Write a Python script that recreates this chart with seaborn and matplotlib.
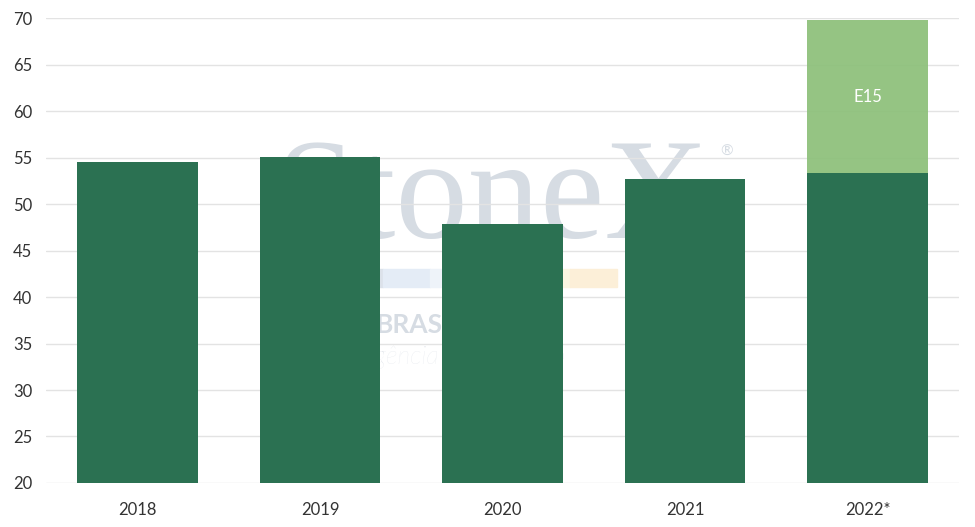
import matplotlib
matplotlib.use("Agg")
import matplotlib.pyplot as plt
import seaborn as sns
import pandas as pd
from matplotlib.patches import Rectangle

years = ["2018", "2019", "2020", "2021", "2022*"]
base_values = [54.5, 55.05, 47.85, 52.7, 53.3]
e15_values = [0, 0, 0, 0, 16.5]
e15_label = "E15"

totals = [b + e for b, e in zip(base_values, e15_values)]
df = pd.DataFrame({"year": years, "base": base_values, "total": totals})

sns.set_theme(style="white")
plt.rcParams["font.family"] = ["Lato", "DejaVu Sans"]

fig = plt.figure(figsize=(9.75, 5.27), dpi=100)
ax = fig.add_axes([0.0474, 0.0835, 0.9359, 0.8823])
ax.set_zorder(2)
ax.patch.set_alpha(0)

# watermark (behind everything)
wm = "#D6DCE3"
fig.text(0.505, 0.548, "StoneX", ha="center", va="baseline", fontsize=104,
         family="Liberation Serif", color=wm, zorder=0)
fig.text(0.745, 0.712, "®", ha="center", va="center", fontsize=11, color=wm, zorder=0)
strip_cols = ["#DCE2EA", "#E4ECF6", "#EEF3F9", "#F5F6F0", "#FBF6E2", "#FCEFD8"]
for i, c in enumerate(strip_cols):
    fig.patches.append(Rectangle((0.345 + i * 0.048, 0.455), 0.048, 0.034,
                                 transform=fig.transFigure, color=c, zorder=0))
fig.text(0.385, 0.368, "BRASIL", fontsize=19, fontweight="bold", color=wm, zorder=0)
fig.text(0.335, 0.31, "Inteligência de Mercado", fontsize=18, style="italic",
         fontweight="light", color="#E0E4EA", zorder=0)

ax.set_axisbelow(True)
ax.yaxis.grid(True, color="#E3E3E3", linewidth=1)

sns.barplot(data=df, x="year", y="total", color="#8DC07A", width=0.66,
            saturation=1, ax=ax, zorder=3, alpha=0.93, linewidth=0)
sns.barplot(data=df, x="year", y="base", color="#2B7152", width=0.66,
            saturation=1, ax=ax, zorder=4, linewidth=0)

for i, (b, e) in enumerate(zip(base_values, e15_values)):
    if e > 0:
        ax.text(i, b + e / 2, e15_label, ha="center", va="center",
                color="white", fontsize=12, zorder=5)

ax.set_ylim(20, 70)
ax.set_yticks(range(20, 71, 5))
ax.set_xlim(-0.5, 4.5)
ax.set_xlabel("")
ax.set_ylabel("")
for s in ax.spines.values():
    s.set_visible(False)
ax.tick_params(axis="both", length=0, labelsize=12, colors="#333333")
ax.tick_params(axis="y", pad=10)
ax.tick_params(axis="x", pad=14)

fig.savefig("out.png", dpi=100)
